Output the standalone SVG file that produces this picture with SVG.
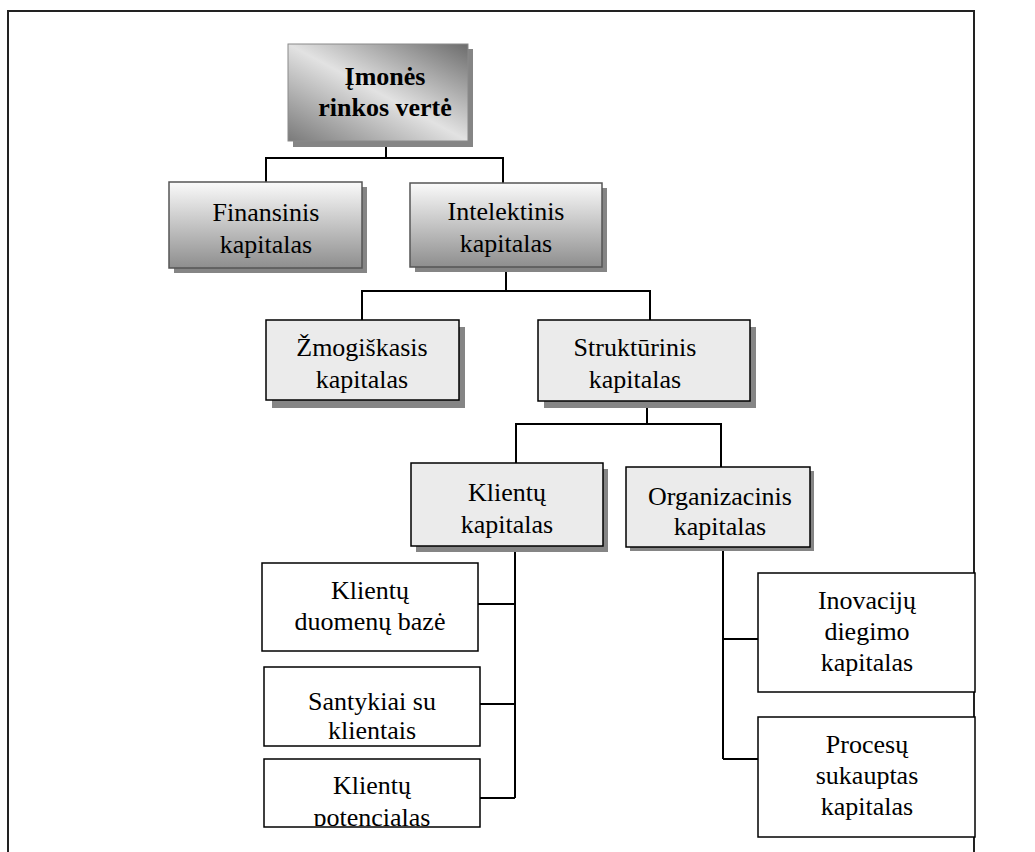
<svg xmlns="http://www.w3.org/2000/svg" width="1035" height="852" viewBox="0 0 1035 852">
  <defs>
    <linearGradient id="gradTop" x1="1" y1="0" x2="0" y2="1">
      <stop offset="0" stop-color="#6c6c6c"/>
      <stop offset="0.5" stop-color="#e2e2e2"/>
      <stop offset="1" stop-color="#7a7a7a"/>
    </linearGradient>
    <linearGradient id="gradMid" x1="0" y1="0" x2="0" y2="1">
      <stop offset="0" stop-color="#fafafa"/>
      <stop offset="1" stop-color="#8e8e8e"/>
    </linearGradient>
    <clipPath id="clipFin"><rect x="169" y="182" width="193" height="82"/></clipPath>
    <clipPath id="clipOrg"><rect x="626" y="467" width="184" height="74"/></clipPath>
    <clipPath id="clipPot"><rect x="264" y="759" width="216" height="67"/></clipPath>
  </defs>
  <style>
    .lbl { font-size: 26px; fill: #000; text-anchor: middle; }
    .bold { font-weight: bold; }
    .shadow { fill: #858585; }
    .top { fill: url(#gradTop); stroke: #8a8a8a; stroke-width: 1; }
    .mid { fill: url(#gradMid); stroke: #555; stroke-width: 1.5; }
    .grey { fill: #ebebeb; stroke: #000; stroke-width: 1.5; }
    .plain { fill: #fff; stroke: #000; stroke-width: 1.5; }
    .conn { fill: none; stroke: #000; stroke-width: 2; }
  </style>

  <!-- outer frame, open at the bottom edge -->
  <path d="M8,852 V11 H974 V852" fill="none" stroke="#222" stroke-width="2"/>

  <!-- connectors -->
  <g id="connectors">
    <path class="conn" d="M386,141 V158 M266,183 V158 H503 V183"/>
    <path class="conn" d="M506,267 V291 M362,320 V291 H650 V320"/>
    <path class="conn" d="M647,401 V424 M516,463 V424 H721 V467"/>
    <path class="conn" d="M515,547 V798 M478,604 H515 M480,704 H515 M480,798 H515"/>
    <path class="conn" d="M723,547 V759 M723,639 H758 M723,759 H763"/>
  </g>

  <g font-family="Liberation Serif, DejaVu Serif, serif">
  <g id="node-imones">
    <rect class="shadow" x="293" y="49" width="180" height="98"/>
    <rect class="top" x="288" y="44" width="180" height="97"/>
    <text class="lbl bold" x="385" y="85">Įmonės</text>
    <text class="lbl bold" x="385" y="116">rinkos vertė</text>
  </g>

  <g id="node-finansinis">
    <rect class="shadow" x="174" y="187" width="193" height="86"/>
    <rect class="mid" x="169" y="182" width="193" height="86"/>
    <g clip-path="url(#clipFin)">
      <text class="lbl" x="266" y="221">Finansinis</text>
      <text class="lbl" x="266" y="253">kapitalas</text>
    </g>
  </g>

  <g id="node-intelektinis">
    <rect class="shadow" x="415" y="188" width="192" height="84"/>
    <rect class="mid" x="410" y="183" width="192" height="84"/>
    <text class="lbl" x="506" y="220">Intelektinis</text>
    <text class="lbl" x="506" y="252">kapitalas</text>
  </g>

  <g id="node-zmogiskasis">
    <rect class="shadow" x="272" y="327" width="193" height="81"/>
    <rect class="grey" x="266" y="320" width="193" height="80"/>
    <text class="lbl" x="362" y="356">Žmogiškasis</text>
    <text class="lbl" x="362" y="388">kapitalas</text>
  </g>

  <g id="node-strukturinis">
    <rect class="shadow" x="544" y="327" width="212" height="81"/>
    <rect class="grey" x="538" y="320" width="212" height="81"/>
    <text class="lbl" x="635" y="356">Struktūrinis</text>
    <text class="lbl" x="635" y="388">kapitalas</text>
  </g>

  <g id="node-klientu-kapitalas">
    <rect class="shadow" x="416" y="469" width="192" height="83"/>
    <rect class="grey" x="411" y="463" width="192" height="83"/>
    <text class="lbl" x="507" y="501">Klientų</text>
    <text class="lbl" x="507" y="533">kapitalas</text>
  </g>

  <g id="node-organizacinis">
    <rect class="shadow" x="630" y="471" width="184" height="80"/>
    <rect class="grey" x="626" y="467" width="184" height="80"/>
    <g clip-path="url(#clipOrg)">
      <text class="lbl" x="720" y="505">Organizacinis</text>
      <text class="lbl" x="720" y="535">kapitalas</text>
    </g>
  </g>

  <g id="node-duomenu-baze">
    <rect class="plain" x="262" y="563" width="216" height="88"/>
    <text class="lbl" x="370" y="599">Klientų</text>
    <text class="lbl" x="370" y="630">duomenų bazė</text>
  </g>

  <g id="node-santykiai">
    <rect class="plain" x="264" y="667" width="216" height="79"/>
    <text class="lbl" x="372" y="710">Santykiai su</text>
    <text class="lbl" x="372" y="739">klientais</text>
  </g>

  <g id="node-potencialas">
    <rect class="plain" x="264" y="759" width="216" height="68"/>
    <g clip-path="url(#clipPot)">
      <text class="lbl" x="372" y="794">Klientų</text>
      <text class="lbl" x="372" y="826">potencialas</text>
    </g>
  </g>

  <g id="node-inovaciju">
    <rect class="plain" x="758" y="573" width="217" height="119"/>
    <text class="lbl" x="867" y="609">Inovacijų</text>
    <text class="lbl" x="867" y="640">diegimo</text>
    <text class="lbl" x="867" y="671">kapitalas</text>
  </g>

  <g id="node-procesu">
    <rect class="plain" x="758" y="717" width="217" height="120"/>
    <text class="lbl" x="867" y="753">Procesų</text>
    <text class="lbl" x="867" y="784">sukauptas</text>
    <text class="lbl" x="867" y="815">kapitalas</text>
  </g>
  </g>
</svg>
